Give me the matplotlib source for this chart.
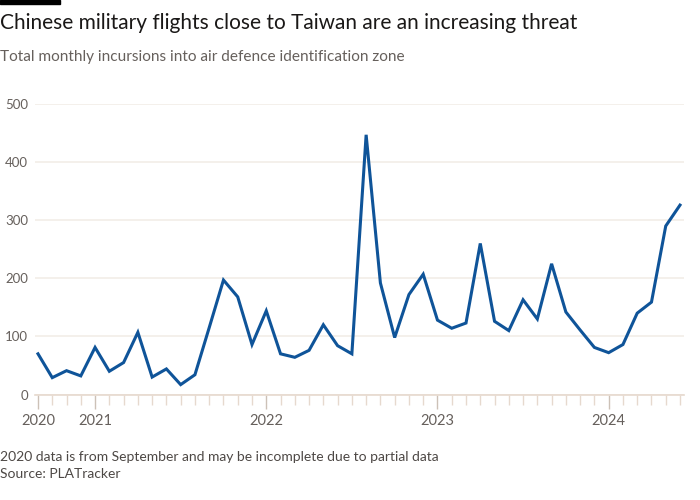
import matplotlib
matplotlib.use("Agg")
import matplotlib.pyplot as plt
import numpy as np
import pandas as pd

# monthly incursions, Sep 2020 - Jun 2024
months = pd.date_range("2020-09-01", "2024-06-01", freq="MS")
incursions = [70, 29, 41, 32,
              81, 40, 55, 107, 30, 44, 17, 34, 115, 197, 168, 86,
              144, 70, 64, 76, 120, 84, 70, 447, 192, 98, 172, 207,
              128, 114, 123, 260, 126, 110, 163, 130, 225, 142, 111, 81,
              72, 86, 140, 159, 290, 326]
year_labels = ["2020", "2021", "2022", "2023", "2024"]
y_ticks = [0, 100, 200, 300, 400, 500]

FONT = "Lato"
GREY = "#66605c"
BLUE = "#0f5499"
GRID = "#f2ede8"

fig = plt.figure(figsize=(7, 5), dpi=100)
fig.patch.set_facecolor("white")
ax = fig.add_axes([35 / 700, 1 - 394.5 / 500, 649 / 700, 290.5 / 500])

x = np.arange(len(months))
ax.plot(x, incursions, color=BLUE, lw=2.2, solid_joinstyle="miter", clip_on=False, zorder=3)

ax.set_xlim(-0.21, 45.28)
ax.set_ylim(0, 500)

ax.set_yticks(y_ticks)
ax.set_yticklabels([str(v) for v in y_ticks], fontsize=9.5, color=GREY, family=FONT)
ax.tick_params(axis="y", length=0, pad=5)
ax.yaxis.grid(True, color=GRID, lw=1.2)
ax.set_axisbelow(True)

# year ticks (first label at start of data, then each January)
year_pos = [0] + [i for i, m in enumerate(months) if m.month == 1]
ax.set_xticks(year_pos)
ax.set_xticklabels(year_labels, fontsize=10.5, color=GREY, family=FONT)
ax.set_xticks(x, minor=True)
ax.tick_params(axis="x", which="major", length=10, width=1, color="#ccc1b7", pad=4)
ax.tick_params(axis="x", which="minor", length=7, width=1, color="#e6d9ce")

for s in ["top", "right", "left"]:
    ax.spines[s].set_visible(False)
ax.spines["bottom"].set_color("#e6d9ce")
ax.spines["bottom"].set_linewidth(1.2)

fig.patches.append(plt.Rectangle((0, 1 - 4 / 500), 60 / 700, 4 / 500,
                                 transform=fig.transFigure, color="black"))
fig.text(0, 1 - 23 / 500, "Chinese military flights close to Taiwan are an increasing threat",
         fontsize=15, family=FONT, color="#1a1817", va="center")
fig.text(0, 1 - 57 / 500, "Total monthly incursions into air defence identification zone",
         fontsize=11.1, family=FONT, color=GREY, va="center")
fig.text(0, 1 - 457 / 500, "2020 data is from September and may be incomplete due to partial data",
         fontsize=10, family=FONT, color="#4d4845", va="center")
fig.text(0, 1 - 474 / 500, "Source: PLATracker",
         fontsize=10, family=FONT, color="#4d4845", va="center")

fig.savefig("out.png", dpi=100, facecolor="white")
